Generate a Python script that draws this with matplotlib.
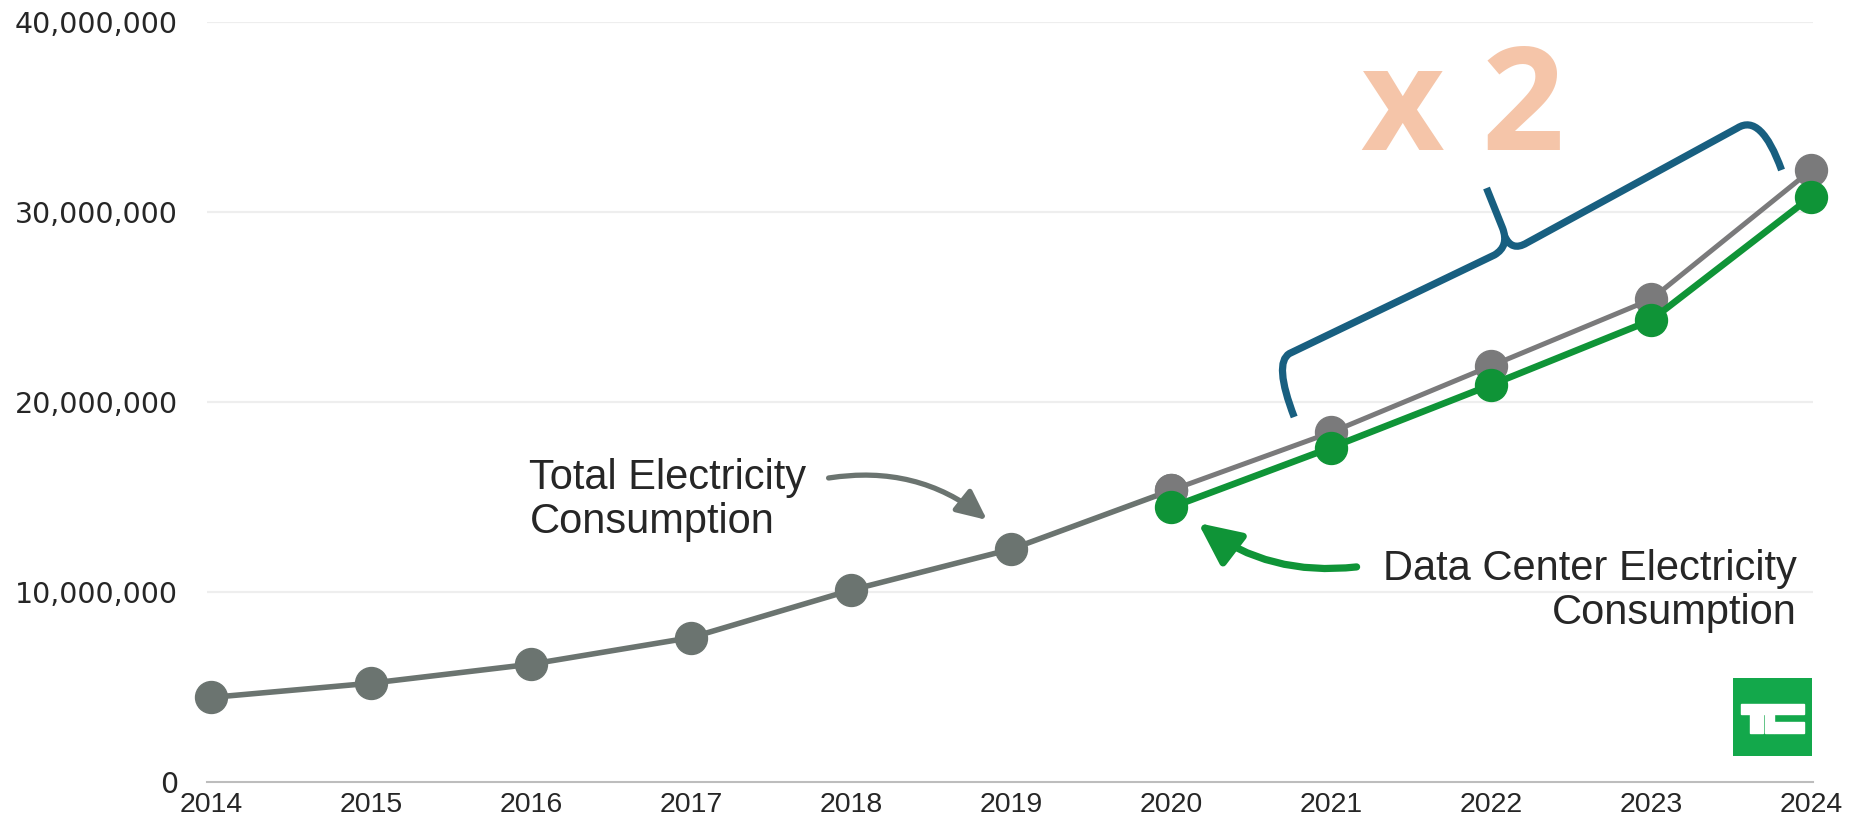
import matplotlib.pyplot as plt
from matplotlib.path import Path
from matplotlib.patches import PathPatch, Rectangle
from matplotlib.ticker import FuncFormatter

# electricity consumption, total vs. data centers
years = [2014, 2015, 2016, 2017, 2018, 2019, 2020, 2021, 2022, 2023, 2024]
total_kwh = [4.45e6, 5.2e6, 6.2e6, 7.6e6, 10.1e6, 12.25e6, 15.35e6, 18.4e6, 21.9e6, 25.4e6, 32.2e6]
dc_years = [2020, 2021, 2022, 2023, 2024]
dc_kwh = [14.45e6, 17.6e6, 20.9e6, 24.3e6, 30.8e6]
y_ticks = [0, 10e6, 20e6, 30e6, 40e6]

GRAY = '#6b7470'
GRAY_LATE = '#7a7a7b'
GREEN = '#0f9437'
BLUE = '#185f80'
PEACH = '#f5c5a9'
TEXT = '#262626'

fig = plt.figure(figsize=(18.69, 8.22), dpi=100)
ax = fig.add_axes([207 / 1869, 40 / 822, 1606 / 1869, 760 / 822])

ax.set_xlim(2014 - 4 / 160.05, 2024 + 2 / 160.05)
ax.set_ylim(0, 40e6)

for t in y_ticks[1:]:
    ax.axhline(t, color='#eeeeee', lw=1.6, zorder=0)
for s in ['top', 'right', 'left']:
    ax.spines[s].set_visible(False)
ax.spines['bottom'].set_color('#bdbdbd')
ax.spines['bottom'].set_linewidth(1.5)

ax.set_xticks(years)
ax.set_yticks(y_ticks)
ax.yaxis.set_major_formatter(FuncFormatter(lambda v, p: f'{v:,.0f}'))
ax.tick_params(axis='both', length=0, colors=TEXT)
ax.tick_params(axis='y', pad=21)
ax.tick_params(axis='x', pad=7)
for lab in ax.get_xticklabels():
    lab.set_fontfamily('Liberation Sans')
    lab.set_fontsize(20.5)
for lab in ax.get_yticklabels():
    lab.set_fontfamily('DejaVu Sans')
    lab.set_fontsize(20.5)

# total series: earlier years darker, later years a more neutral gray
ax.plot(years[:7], total_kwh[:7], color=GRAY, lw=4, marker='o', ms=23,
        mfc=GRAY, mec=GRAY, zorder=3, clip_on=False)
ax.plot(years[6:], total_kwh[6:], color=GRAY_LATE, lw=3.6, marker='o', ms=23,
        mfc=GRAY_LATE, mec=GRAY_LATE, zorder=3, clip_on=False)
ax.plot(dc_years, dc_kwh, color=GREEN, lw=4.8, marker='o', ms=23,
        mfc=GREEN, mec=GREEN, zorder=4, clip_on=False)

# labels with curved arrows
ax.text(2015.99, 14.85e6, 'Total Electricity\nConsumption', fontsize=30,
        family='Liberation Sans', color=TEXT, ha='left', va='center',
        linespacing=1.15)
ax.annotate('', xy=(2018.85, 13.79e6), xytext=(2017.86, 16.0e6),
            arrowprops=dict(arrowstyle='-|>,head_length=0.6,head_width=0.28',
                            mutation_scale=30, color=GRAY, lw=3.8,
                            shrinkA=0, shrinkB=0,
                            connectionstyle='arc3,rad=-0.22'))

ax.text(2023.91, 10.05e6, 'Data Center Electricity\nConsumption', fontsize=30,
        family='Liberation Sans', color=TEXT, ha='right', va='center',
        multialignment='right', linespacing=1.15)
ax.annotate('', xy=(2020.17, 13.63e6), xytext=(2021.16, 11.32e6),
            arrowprops=dict(arrowstyle='-|>,head_length=0.85,head_width=0.4',
                            mutation_scale=30, color=GREEN, lw=5.2,
                            shrinkA=0, shrinkB=0,
                            connectionstyle='arc3,rad=-0.2'))

# brace over 2021-2024
left_arm = Path(
    [(2020.770, 19.21e6), (2020.640, 22.05e6), (2020.740, 22.55e6),
     (2022.022, 27.74e6), (2022.116, 28.21e6), (2022.072, 29.16e6),
     (2021.972, 31.26e6)],
    [Path.MOVETO, Path.CURVE3, Path.CURVE3,
     Path.LINETO, Path.CURVE3, Path.CURVE3,
     Path.LINETO])
right_arm = Path(
    [(2022.085, 28.74e6), (2022.129, 27.89e6), (2022.223, 28.37e6),
     (2023.540, 34.42e6), (2023.640, 34.95e6), (2023.730, 34.20e6),
     (2023.816, 32.21e6)],
    [Path.MOVETO, Path.CURVE3, Path.CURVE3,
     Path.LINETO, Path.CURVE4, Path.CURVE4, Path.CURVE4])
for p in (left_arm, right_arm):
    ax.add_patch(PathPatch(p, fill=False, edgecolor=BLUE, lw=5.2,
                           capstyle='butt', joinstyle='round', zorder=5,
                           clip_on=False))

ax.text(2021.19, 33.26e6, 'x 2', fontsize=104, family='Open Sans',
        fontweight='bold', color=PEACH, ha='left', va='baseline')

# TC badge
logo = fig.add_axes([1733 / 1869, 66 / 822, 79 / 1869, 78 / 822])
logo.set_xlim(0, 1)
logo.set_ylim(1, 0)
logo.axis('off')
logo.add_patch(Rectangle((0, 0), 1, 1, color='#13a84b'))
for x0, y0, w, h in [(0.106, 0.33, 0.796, 0.13),
                     (0.213, 0.46, 0.17, 0.25),
                     (0.404, 0.46, 0.115, 0.25),
                     (0.519, 0.56, 0.375, 0.15)]:
    logo.add_patch(Rectangle((x0, y0), w, h, color='white'))

fig.savefig('out.png', dpi=100)
